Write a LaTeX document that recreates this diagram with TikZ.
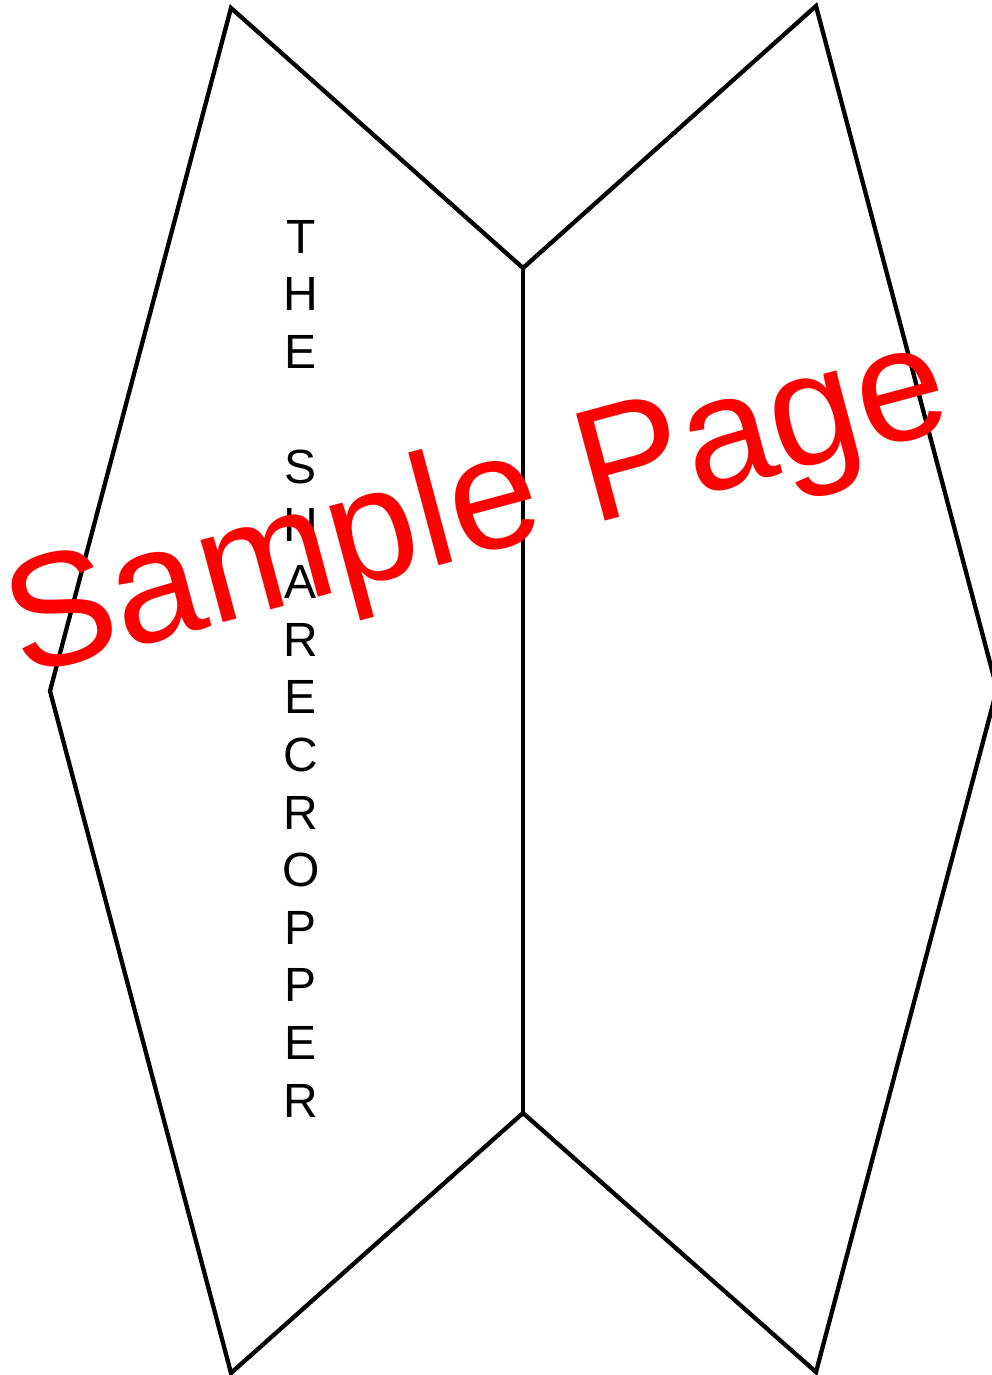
\documentclass[tikz,border=0pt]{standalone}
\usepackage{fontspec}
\setmainfont{Liberation Sans}
\tikzset{
  outline/.style={draw=black, line width=4.3pt, line join=miter},
  letter/.style={anchor=base, inner sep=0pt, font=\fontsize{48}{57.6}\selectfont},
  stamp/.style={anchor=base west, inner sep=0pt, text=red, rotate=15, font=\fontsize{161}{190}\selectfont}
}
\begin{document}
\begin{tikzpicture}[x=1pt,y=-1pt]
\useasboundingbox (0,0) rectangle (991,1375);
\coordinate (tl) at (231,8);
\coordinate (mt) at (523,268);
\coordinate (tr) at (816,6);
\coordinate (rv) at (997,689);
\coordinate (br) at (816,1372);
\coordinate (mb) at (523,1113);
\coordinate (bl) at (231,1373);
\coordinate (lv) at (50,691);
\draw[outline] (tl) -- (mt) -- (tr) -- (rv) -- (br) -- (mb) -- (bl) -- (lv) -- cycle;
\draw[outline] (mt) -- (mb);
\foreach \ch [count=\i from 0] in {T,H,E,{},S,H,A,R,E,C,R,O,P,P,E,R}{
  \node[letter] (l\i) at (301,{253+57.6*\i}) {\ch};
}
\node[stamp] (sample) at (22,677) {Sample Page};
\end{tikzpicture}
\end{document}
